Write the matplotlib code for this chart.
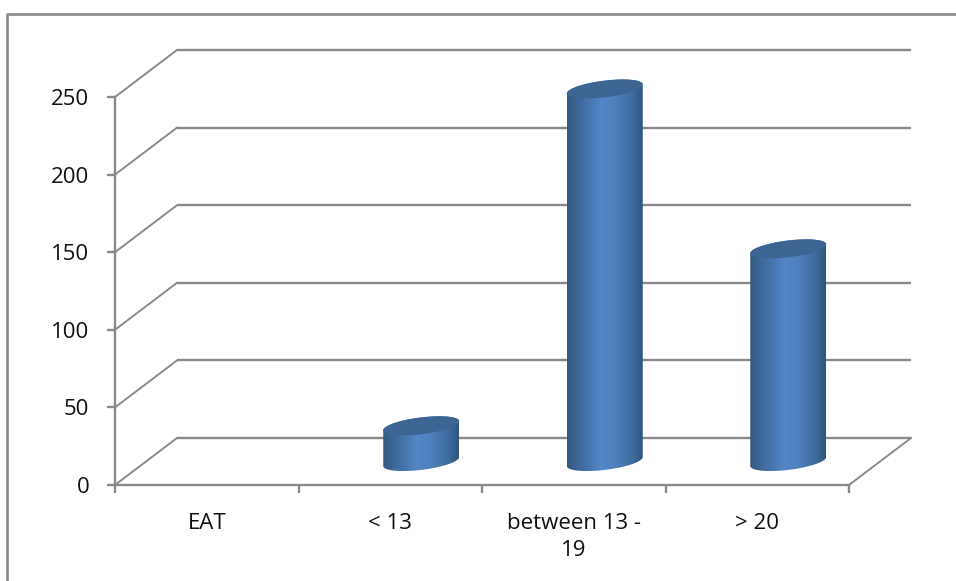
import numpy as np
import matplotlib
matplotlib.use("Agg")
import matplotlib.pyplot as plt
from matplotlib.colors import LinearSegmentedColormap
from matplotlib.lines import Line2D
from matplotlib.patches import PathPatch
from matplotlib.path import Path
from matplotlib.transforms import Affine2D, IdentityTransform

categories = ["EAT", "< 13", "between 13 -\n19", "> 20"]
counts = [0, 23, 240, 137]
y_ticks = [0, 50, 100, 150, 200, 250]

W, H = 956, 581
GRAY = "#8a8a8a"
DEPTH_X, DEPTH_Y = 62, 47      # pseudo-3D depth of the floor, in pixels
BAR_W = 0.414                  # bar width in category units
SHEAR, MINOR = 4.5, 8.4        # tilt and half-height of the cylinder ellipses, px
FONT_SIZE = 16

plt.rcParams["font.family"] = ["Open Sans", "DejaVu Sans"]
fig = plt.figure(figsize=(W / 100, H / 100), dpi=100)
ax = fig.add_axes([115 / W, 1 - 485 / H, (849 - 115) / W, (485 - 97) / H])
ax.patch.set_alpha(0)

# Outer chart frame: only the top and left edges fall inside the canvas
fig.add_artist(Line2D([7 / W, 7 / W, 1], [0, 1 - 14 / H, 1 - 14 / H],
                      color=GRAY, lw=1.9, transform=fig.transFigure))

ax.set_xlim(0, len(categories))
ax.set_ylim(0, y_ticks[-1])
back = ax.transData + Affine2D().translate(DEPTH_X, DEPTH_Y)
mid = ax.transData + Affine2D().translate(DEPTH_X / 2, DEPTH_Y / 2)


def depth_line(x, y, lw):
    x0, y0 = ax.transData.transform((x, y))
    ax.add_line(Line2D([x0, x0 + DEPTH_X], [y0, y0 + DEPTH_Y], color=GRAY, lw=lw,
                       transform=IdentityTransform(), clip_on=False))


# Back wall gridlines and the slanted lines joining them to the front axis
for t in y_ticks:
    ax.plot([0, len(categories)], [t, t], color=GRAY, lw=1.7, transform=back,
            clip_on=False, solid_capstyle="butt", zorder=1)
    depth_line(0, t, 1.4)
depth_line(len(categories), 0, 1.4)

shade = LinearSegmentedColormap.from_list(
    "cyl", [(0.0, "#34597f"), (0.12, "#3c6595"), (0.45, "#5286c6"),
            (0.62, "#4f81bd"), (0.88, "#3e6a9c"), (1.0, "#2f5478")])
ramp = np.linspace(0, 1, 256).reshape(1, -1)

for i, value in enumerate(counts):
    if value == 0:
        continue
    left, right = i + 0.5 - BAR_W / 2, i + 0.5 + BAR_W / 2
    bx0, by0 = mid.transform((left, 0))
    bx1, by1 = mid.transform((right, value))
    cx, a = (bx0 + bx1) / 2, (bx1 - bx0) / 2

    def ellipse(cy, t):
        return np.column_stack([cx + a * np.cos(t),
                                cy + SHEAR * np.cos(t) + MINOR * np.sin(t)])

    # Side of the cylinder: lower arc of the base, then the top rim
    lower = ellipse(by0, np.linspace(np.pi, 2 * np.pi, 80))
    upper = ellipse(by1, np.linspace(0, np.pi, 80))
    body = Path(np.vstack([lower, upper, lower[:1]]), closed=True)
    im = ax.imshow(ramp, cmap=shade, aspect="auto", interpolation="bilinear",
                   extent=(left, right, -30, value + 30), transform=mid, zorder=3)
    im.set_clip_path(body, IdentityTransform())
    im.set_clip_box(fig.bbox)

    cap = ellipse(by1, np.linspace(0, 2 * np.pi, 160))
    ax.add_patch(PathPatch(Path(cap, closed=True), facecolor="#3d6593", edgecolor="none",
                           transform=IdentityTransform(), clip_on=False, zorder=4))

ax.set_xlim(0, len(categories))
ax.set_ylim(0, y_ticks[-1])

for side in ("top", "right"):
    ax.spines[side].set_visible(False)
for side in ("left", "bottom"):
    ax.spines[side].set_color(GRAY)
    ax.spines[side].set_linewidth(1.7)

ax.set_yticks(y_ticks)
ax.set_xticks(range(len(categories) + 1))
ax.set_xticklabels([])
ax.set_xticks(np.arange(len(categories)) + 0.5, categories, minor=True)
ax.tick_params(axis="both", which="major", color=GRAY, width=1.7, length=6,
               labelsize=FONT_SIZE, labelcolor="#111111")
ax.tick_params(axis="y", which="major", pad=12.5)
ax.tick_params(axis="x", which="minor", length=0, labelsize=FONT_SIZE,
               labelcolor="#111111", pad=20)
for label in ax.get_xticklabels(minor=True):
    label.set_linespacing(1.42)

fig.savefig("out.png", dpi=100, facecolor="white")
